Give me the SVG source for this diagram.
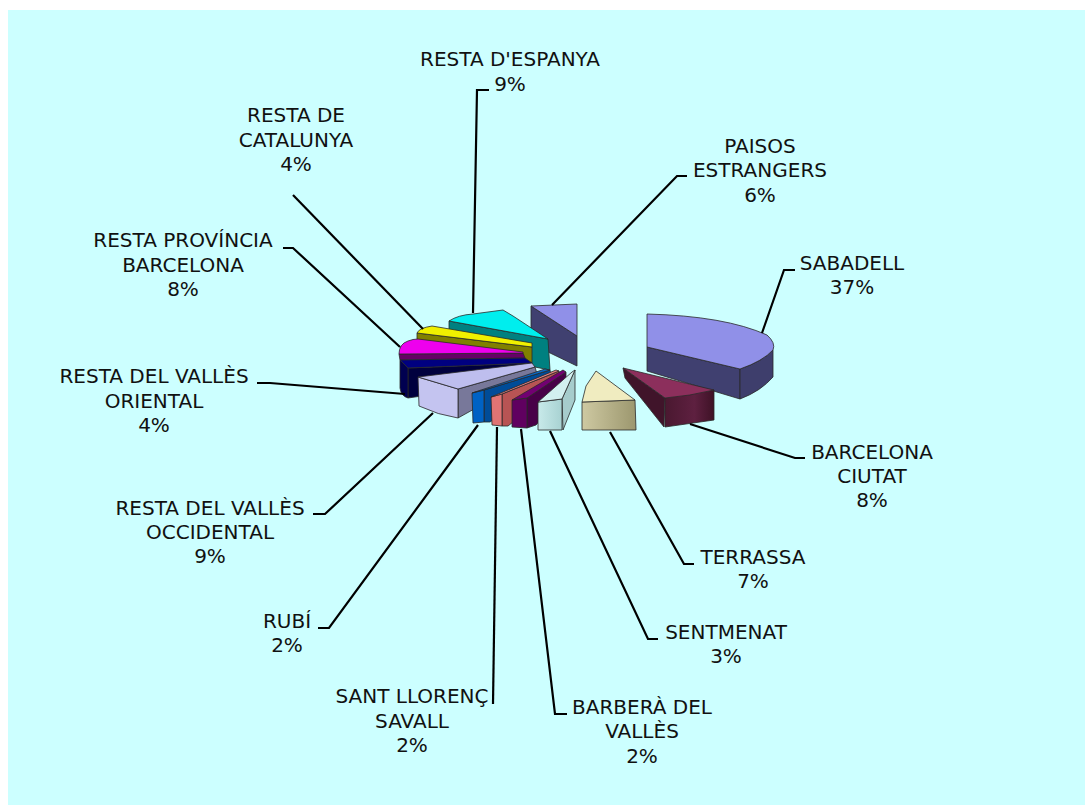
<svg xmlns="http://www.w3.org/2000/svg" width="1085" height="805" viewBox="0 0 1085 805">
<defs>
<style>
.lbl{font-family:"DejaVu Sans",Verdana,sans-serif;font-size:20px;fill:#111;text-anchor:middle}
.f{stroke:#2a2a2a;stroke-width:0.8;stroke-linejoin:round}
.ld{fill:none;stroke:#000;stroke-width:2.2;stroke-linejoin:miter}
</style>
<linearGradient id="gTer" x1="0" y1="0" x2="1" y2="0">
<stop offset="0" stop-color="#CEC9A2"/><stop offset="1" stop-color="#9C976E"/>
</linearGradient>
<linearGradient id="gBcn" x1="0" y1="0" x2="1" y2="0">
<stop offset="0" stop-color="#4A1830"/><stop offset="0.6" stop-color="#5E2040"/><stop offset="1" stop-color="#3E1226"/>
</linearGradient>
<linearGradient id="gSen" x1="0" y1="0" x2="1" y2="0">
<stop offset="0" stop-color="#C8EAEA"/><stop offset="1" stop-color="#A8D2D2"/>
</linearGradient>
</defs>
<rect x="0" y="0" width="1085" height="805" fill="#FFFFFF"/>
<rect x="8" y="10" width="1077" height="795" fill="#CCFFFF"/>

<g id="paisos-estrangers">
<polygon class="f" points="531,306 577,336 577,366 548,352 531,328" fill="#404070"/>
<polygon class="f" points="531,306 577,304 577,336" fill="#9090E8"/>
<text class="lbl" x="760" y="153">PAISOS</text>
<text class="lbl" x="760" y="177">ESTRANGERS</text>
<text class="lbl" x="760" y="202">6%</text>
</g>

<g id="resta-espanya">
<polygon class="f" points="449,321 548,339 550,370 449,350" fill="#008080"/>
<path class="f" d="M449,321 Q458,315 473,314 L503,310 L513,316 L548,339 Z" fill="#00EEEE"/>
<text class="lbl" x="510" y="66">RESTA D'ESPANYA</text>
<text class="lbl" x="510" y="91">9%</text>
</g>

<g id="resta-catalunya">
<polygon class="f" points="417,333 532,347 532,366 417,346" fill="#808000"/>
<path class="f" d="M417,333 Q419,328 432,326 L532,343 L532,347 Z" fill="#F0F000"/>
<text class="lbl" x="296" y="122">RESTA DE</text>
<text class="lbl" x="296" y="147">CATALUNYA</text>
<text class="lbl" x="296" y="171">4%</text>
</g>

<g id="resta-provincia">
<polygon class="f" points="399,354 523,353 525,358 400,360" fill="#660066"/>
<path class="f" d="M399,354 Q399,344 408,341 Q413,339 418,339 L523,352 L523,353 Z" fill="#EE00EE"/>
<text class="lbl" x="183" y="247">RESTA PROVÍNCIA</text>
<text class="lbl" x="183" y="272">BARCELONA</text>
<text class="lbl" x="183" y="296">8%</text>
</g>

<g id="resta-valles-oriental">
<polygon class="f" points="408,368 532,363 533,380 408,398" fill="#00003E"/>
<path class="f" d="M400,360 L408,368 L408,398 Q401,396 400,388 Z" fill="#000050"/>
<polygon class="f" points="400,360 525,358 532,363 408,368" fill="#000080"/>
<text class="lbl" x="154" y="383">RESTA DEL VALLÈS</text>
<text class="lbl" x="154" y="408">ORIENTAL</text>
<text class="lbl" x="154" y="432">4%</text>
</g>

<g id="resta-valles-occidental">
<polygon class="f" points="458,389 535,367 537,374 458,418" fill="#78789A"/>
<path class="f" d="M418,377 L458,389 L458,418 Q438,415 419,406 Z" fill="#C4C4F0"/>
<polygon class="f" points="418,377 532,363 535,367 458,389" fill="#BEBEEE"/>
<text class="lbl" x="210" y="515">RESTA DEL VALLÈS</text>
<text class="lbl" x="210" y="539">OCCIDENTAL</text>
<text class="lbl" x="210" y="563">9%</text>
</g>

<g id="rubi">
<polygon class="f" points="484,390 550,370 552,380 490,422 484,422" fill="#004C98"/>
<polygon class="f" points="472,393 484,390 484,422 473,423" fill="#0062C4"/>
<polygon class="f" points="472,393 545,369 550,370 484,390" fill="#0A6ACA"/>
<text class="lbl" x="287" y="628">RUBÍ</text>
<text class="lbl" x="287" y="652">2%</text>
</g>

<g id="sant-llorenc">
<polygon class="f" points="502,394 559,371 561,384 508,426 502,426" fill="#B85454"/>
<polygon class="f" points="491,397 502,394 502,426 492,425" fill="#E07474"/>
<polygon class="f" points="491,397 556,370 559,371 502,394" fill="#E88484"/>
<text class="lbl" x="412" y="703">SANT LLORENÇ</text>
<text class="lbl" x="412" y="728">SAVALL</text>
<text class="lbl" x="412" y="752">2%</text>
</g>

<g id="barbera">
<polygon class="f" points="527,398 566,372 566,392 536,425 527,428" fill="#480048"/>
<polygon class="f" points="512,400 527,398 527,428 512,427" fill="#600060"/>
<polygon class="f" points="512,400 563,370 566,372 527,398" fill="#720072"/>
<text class="lbl" x="642" y="714">BARBERÀ DEL</text>
<text class="lbl" x="642" y="738">VALLÈS</text>
<text class="lbl" x="642" y="763">2%</text>
</g>

<g id="sentmenat">
<polygon class="f" points="562,399 575,370 575,400 563,430" fill="#A6CCCC"/>
<polygon class="f" points="538,402 562,399 562,430 538,430" fill="url(#gSen)"/>
<polygon class="f" points="538,402 572,372 575,370 562,399" fill="#D2F0F0"/>
<text class="lbl" x="726" y="639">SENTMENAT</text>
<text class="lbl" x="726" y="663">3%</text>
</g>

<g id="terrassa">
<polygon class="f" points="582,402 635,400 636,430 582,430" fill="url(#gTer)"/>
<polygon class="f" points="596,371 586,386 582,402 635,400" fill="#F0ECC0"/>
<text class="lbl" x="753" y="564">TERRASSA</text>
<text class="lbl" x="753" y="588">7%</text>
</g>

<g id="sabadell">
<polygon class="f" points="647,347 740,369 740,399 647,371" fill="#404070"/>
<path class="f" d="M740,369 Q763,361 773,350 L773,377 Q761,391 740,399 Z" fill="#3E3E6C"/>
<path class="f" d="M647,314 Q725,316 767,335 Q776,343 773,350 Q763,361 740,369 L647,347 Z" fill="#9090E8"/>
<text class="lbl" x="852" y="270">SABADELL</text>
<text class="lbl" x="852" y="294">37%</text>
</g>

<g id="barcelona-ciutat">
<polygon class="f" points="623,368 665,398 664,427 625,378" fill="#40142A"/>
<polygon class="f" points="665,398 714,390 714,420 665,427" fill="url(#gBcn)"/>
<path class="f" d="M623,368 L714,390 Q690,396 665,398 Z" fill="#8C2F5C"/>
<text class="lbl" x="872" y="459">BARCELONA</text>
<text class="lbl" x="872" y="483">CIUTAT</text>
<text class="lbl" x="872" y="507">8%</text>
</g>

<g id="connectors">
<polyline class="ld" points="489,90 477,90 473,313"/>
<polyline class="ld" points="687,176 677,176 552,305"/>
<polyline class="ld" points="795,270 784,270 762,333"/>
<polyline class="ld" points="805,458 795,458 690,424"/>
<polyline class="ld" points="694,564 684,564 610,432"/>
<polyline class="ld" points="658,639 648,639 550,431"/>
<polyline class="ld" points="567,714 555,714 521,429"/>
<polyline class="ld" points="493,704 497,427"/>
<polyline class="ld" points="318,628 329,628 478,425"/>
<polyline class="ld" points="313,514 325,514 433,413"/>
<polyline class="ld" points="257,383 270,383 405,394"/>
<polyline class="ld" points="283,248 293,248 400,347"/>
<polyline class="ld" points="293,195 423,329"/>
</g>
</svg>
